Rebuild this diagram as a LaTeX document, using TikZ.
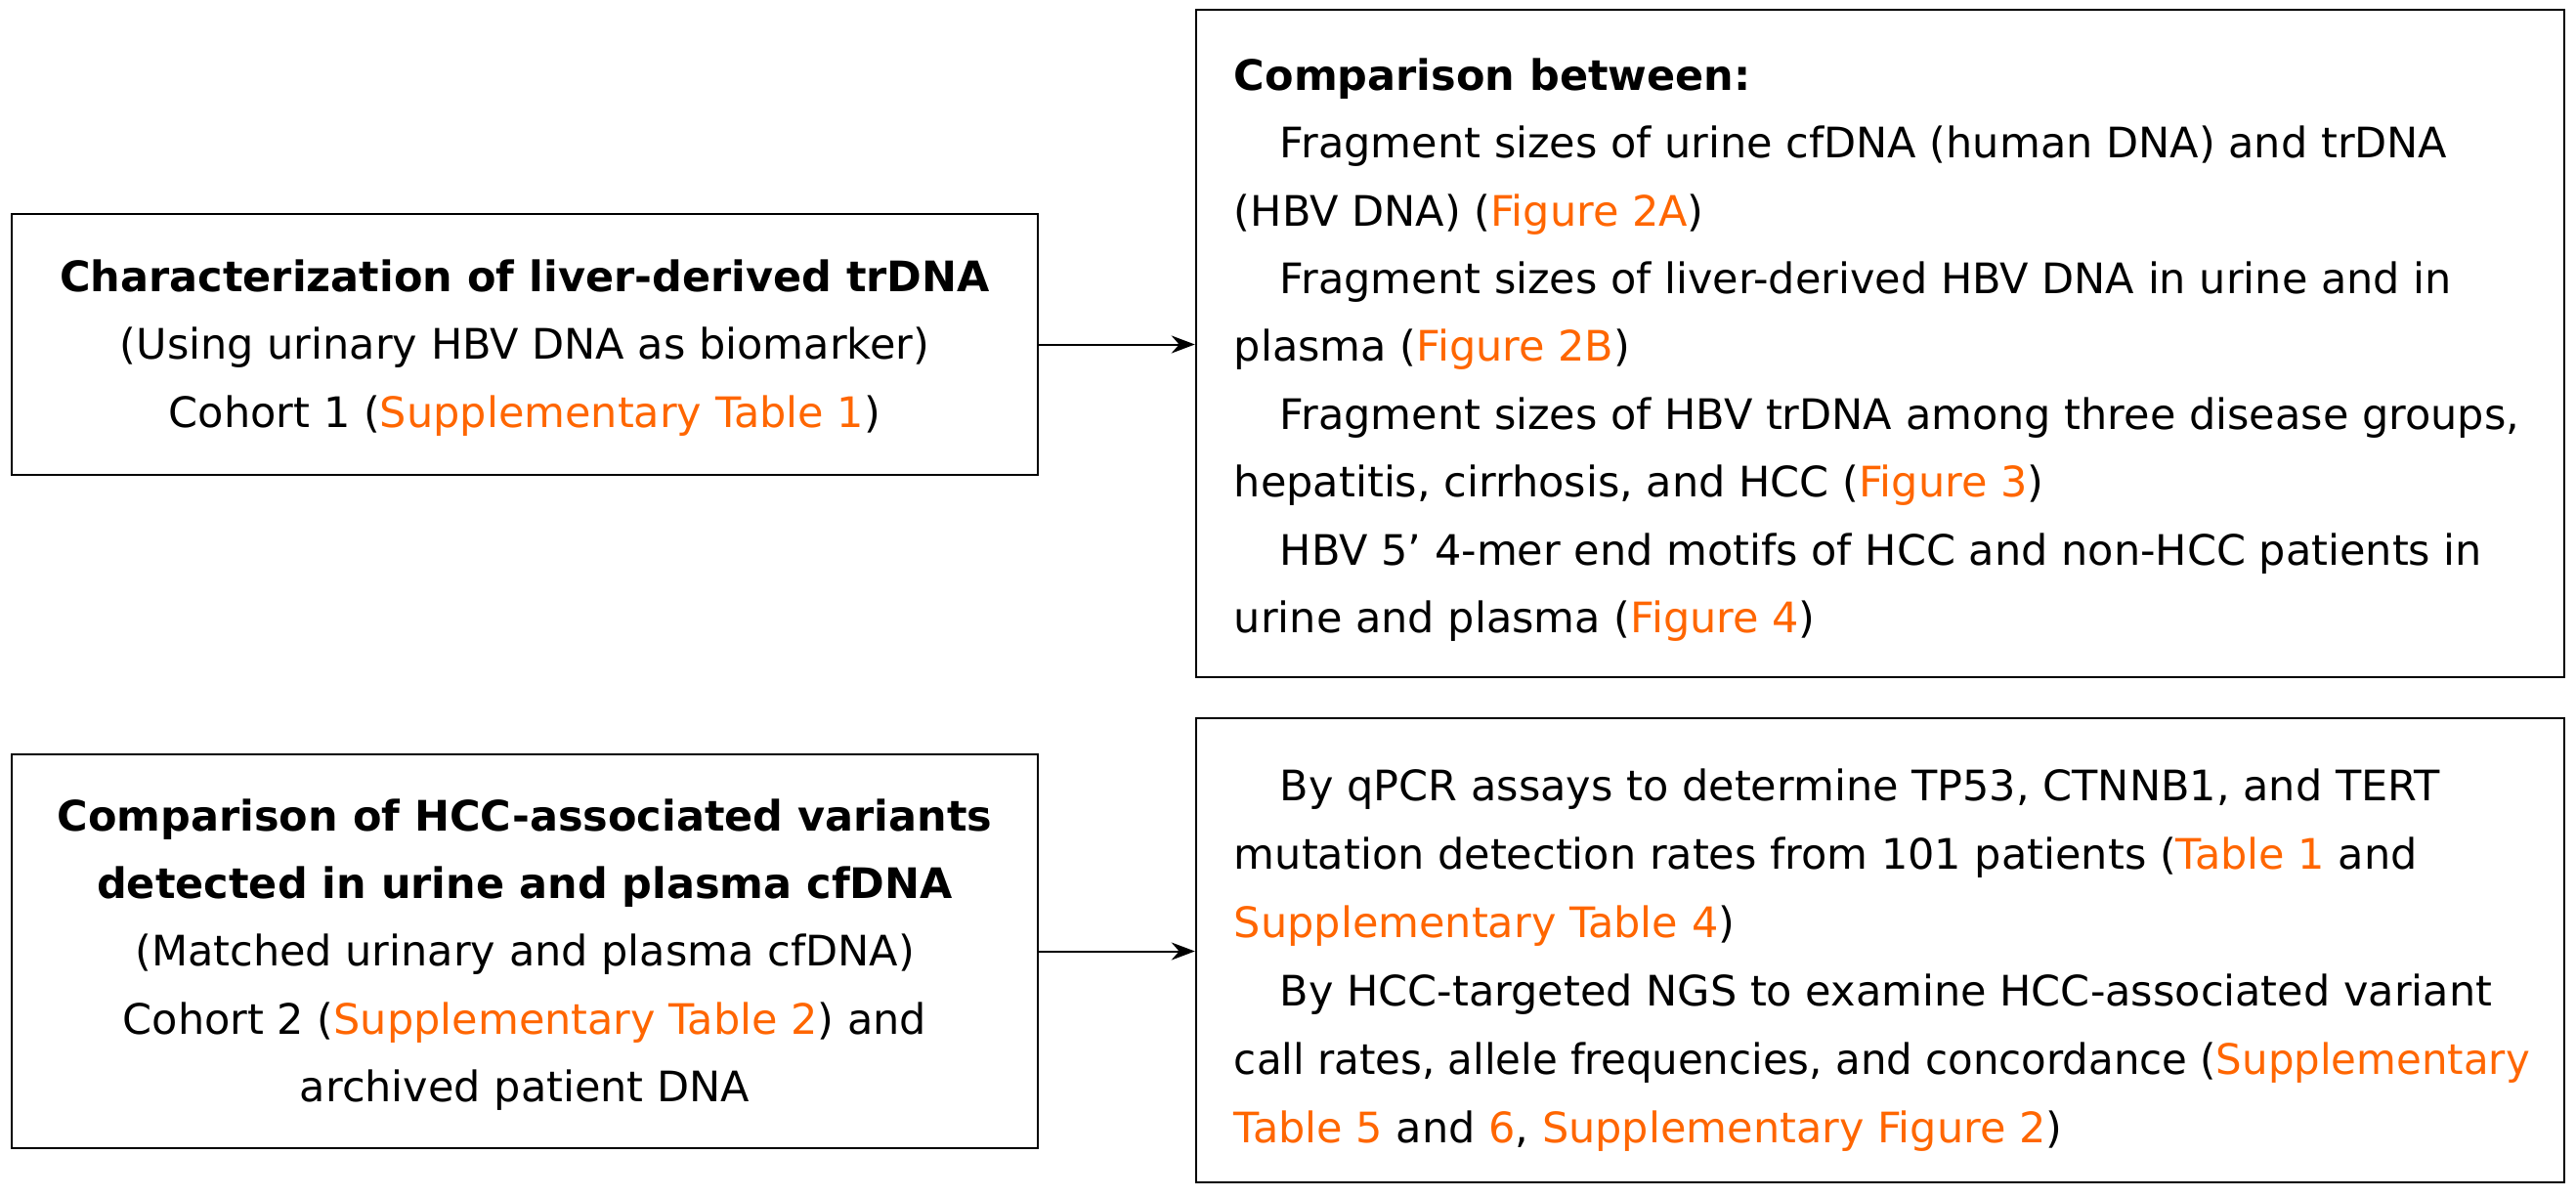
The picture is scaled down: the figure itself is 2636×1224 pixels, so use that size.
\documentclass[tikz,border=0pt]{standalone}
\usepackage{fontspec}
\usepackage{graphicx}
\setmainfont{DejaVu Sans}
\usetikzlibrary{arrows.meta}
\definecolor{refor}{HTML}{FF6600}
\newcommand{\rf}[1]{\textcolor{refor}{#1}}
\newcommand{\ind}{\hspace*{47pt}}
\begin{document}
\begin{tikzpicture}[x=1pt,y=-1pt,
  box/.style={draw=black, line width=2.5pt, inner sep=0pt},
  txt/.style={inner sep=0pt, font=\fontsize{43}{69.4}\selectfont},
  link/.style={-{Stealth[length=24pt,width=18pt]}, line width=2pt}]
\useasboundingbox[fill=white] (0,0) rectangle (2636,1224);
% left boxes
\node[box, minimum width=1050pt, minimum height=267pt] (b1) at (537,352.5) {};
\node[txt, align=center] (t1) at ([yshift=-3.5pt]b1.center)
  {\textbf{Characterization of liver-derived trDNA}\\
   (Using urinary HBV DNA as biomarker)\\
   Cohort 1 (\rf{Supplementary Table 1})};
\node[box, minimum width=1050pt, minimum height=403pt] (b3) at (537,973.5) {};
\node[txt, align=center] (t3) at ([yshift=-3.5pt]b3.center)
  {\textbf{Comparison of HCC-associated variants}\\
   \textbf{detected in urine and plasma cfDNA}\\
   (Matched urinary and plasma cfDNA)\\
   Cohort 2 (\rf{Supplementary Table 2}) and\\
   archived patient DNA};
% right boxes
\node[box, minimum width=1400pt, minimum height=683pt] (b2) at (1924,351.5) {};
\node[txt, align=left, anchor=west] (t2) at ([xshift=40pt,yshift=-6.5pt]b2.west)
  {\textbf{Comparison between:}\\
   \ind Fragment sizes of urine cfDNA (human DNA) and trDNA\\
   (HBV DNA) (\rf{Figure 2A})\\
   \ind Fragment sizes of liver-derived HBV DNA in urine and in\\
   plasma (\rf{Figure 2B})\\
   \ind Fragment sizes of HBV trDNA among three disease groups,\\
   hepatitis, cirrhosis, and HCC (\rf{Figure 3})\\
   \ind HBV 5’ 4-mer end motifs of HCC and non-HCC patients in\\
   urine and plasma (\rf{Figure 4})};
\node[box, minimum width=1400pt, minimum height=475pt] (b4) at (1924,972.5) {};
\node[txt, align=left, anchor=west, font=\fontsize{43}{70}\selectfont] (t4) at ([xshift=40pt,yshift=-10pt]b4.west)
  {\ind By qPCR assays to determine TP53, CTNNB1, and TERT\\
   mutation detection rates from 101 patients (\rf{Table 1} and\\
   \rf{Supplementary Table 4})\\
   \ind By HCC-targeted NGS to examine HCC-associated variant\\
   \scalebox{0.974}[1]{call rates, allele frequencies, and concordance (\rf{Supplementary}}\\
   \rf{Table 5} and \rf{6}, \rf{Supplementary Figure 2})};
% connectors
\draw[link] (b1.east) -- (b1.east -| b2.west);
\draw[link] (b3.east) -- (b3.east -| b4.west);
\end{tikzpicture}
\end{document}
